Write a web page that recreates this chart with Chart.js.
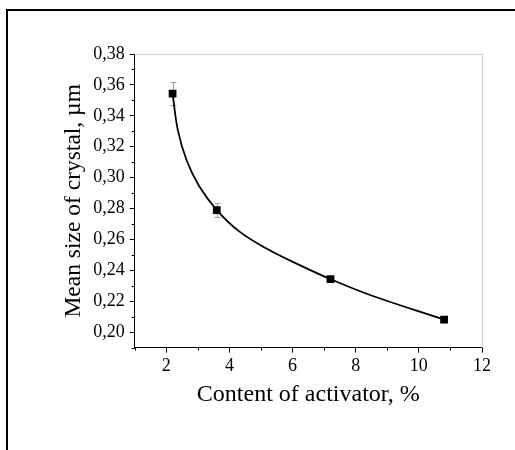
<!DOCTYPE html>
<html>
<head>
<meta charset="utf-8">
<script src="https://cdn.jsdelivr.net/npm/chart.js@4/dist/chart.umd.min.js"></script>
<style>
  html, body { margin: 0; padding: 0; background: #ffffff; overflow: hidden; }
  canvas { display: block; }
</style>
</head>
<body>
<canvas id="c" width="515" height="450"></canvas>
<script>
// Measured points
const activatorContent = [2.2, 3.6, 7.2, 10.8];
const meanCrystalSize  = [0.3544, 0.279, 0.2343, 0.2081];
const sizeError        = [0.0075, 0.0045, 0.002, 0.0015];

// Fitted curve
const fitX = [2.2, 2.37, 2.65, 3.04, 3.6, 4.31, 5.16, 6.21, 7.2, 8.5, 10.8];
const fitY = [0.3544, 0.3304, 0.3109, 0.2946, 0.279, 0.2652, 0.2543, 0.2435, 0.2343, 0.2237, 0.2081];

// Axis ticks
const xMajorTicks = [2, 4, 6, 8, 10, 12];
const xMinorTicks = [1, 3, 5, 7, 9, 11];
const yMajorTicks = [0.20, 0.22, 0.24, 0.26, 0.28, 0.30, 0.32, 0.34, 0.36, 0.38];
const yMinorTicks = [0.19, 0.21, 0.23, 0.25, 0.27, 0.29, 0.31, 0.33, 0.35, 0.37];

const xTitle = 'Content of activator, %';
const yTitle = 'Mean size of crystal, \u00b5m';

const SERIF = '"Liberation Serif", "Times New Roman", serif';

const framePlugin = {
  id: 'frame',
  beforeDraw(chart) {
    const ctx = chart.ctx;
    ctx.save();
    ctx.fillStyle = '#fff';
    ctx.fillRect(0, 0, chart.width, chart.height);
    ctx.strokeStyle = '#000';
    ctx.lineWidth = 2;
    ctx.beginPath();
    ctx.moveTo(7, chart.height);
    ctx.lineTo(7, 10);
    ctx.lineTo(chart.width, 10);
    ctx.stroke();
    ctx.restore();
  }
};

const extrasPlugin = {
  id: 'extras',
  beforeDatasetsDraw(chart) {
    const ctx = chart.ctx;
    const xs = chart.scales.x, ys = chart.scales.y;
    const a = chart.chartArea;
    ctx.save();
    // top and right frame of plot area
    ctx.strokeStyle = '#cfcfcf';
    ctx.lineWidth = 1;
    ctx.beginPath();
    ctx.moveTo(a.left, a.top + 0.5);
    ctx.lineTo(a.right + 0.5, a.top + 0.5);
    ctx.lineTo(a.right + 0.5, a.bottom);
    ctx.stroke();
    // minor ticks
    ctx.strokeStyle = '#000';
    ctx.lineWidth = 1;
    ctx.beginPath();
    xMinorTicks.forEach(v => {
      const px = Math.round(xs.getPixelForValue(v)) + 0.5;
      ctx.moveTo(px, a.bottom);
      ctx.lineTo(px, a.bottom + 3);
    });
    yMinorTicks.forEach(v => {
      const py = Math.round(ys.getPixelForValue(v)) + 0.5;
      ctx.moveTo(a.left, py);
      ctx.lineTo(a.left - 3, py);
    });
    ctx.stroke();
    // error bars
    ctx.strokeStyle = '#9a9a9a';
    ctx.lineWidth = 1;
    ctx.beginPath();
    activatorContent.forEach((x, i) => {
      const px = Math.round(xs.getPixelForValue(x)) + 0.5;
      const top = Math.round(ys.getPixelForValue(meanCrystalSize[i] + sizeError[i])) + 0.5;
      const bot = Math.round(ys.getPixelForValue(meanCrystalSize[i] - sizeError[i])) + 0.5;
      ctx.moveTo(px, top); ctx.lineTo(px, bot);
      ctx.moveTo(px - 3, top); ctx.lineTo(px + 3, top);
      ctx.moveTo(px - 3, bot); ctx.lineTo(px + 3, bot);
    });
    ctx.stroke();
    ctx.restore();
  }
};

const fmt = v => v.toFixed(2).replace('.', ',');

new Chart(document.getElementById('c'), {
  type: 'scatter',
  data: {
    datasets: [
      {
        label: 'fit',
        data: fitX.map((x, i) => ({ x, y: fitY[i] })),
        showLine: true,
        borderColor: '#000',
        borderWidth: 1.8,
        pointRadius: 0,
        tension: 0.4,
        fill: false,
        order: 2
      },
      {
        label: 'data',
        data: activatorContent.map((x, i) => ({ x, y: meanCrystalSize[i] })),
        showLine: false,
        pointStyle: 'rect',
        pointRadius: 5.5,
        backgroundColor: '#000',
        borderColor: '#000',
        borderWidth: 0,
        order: 1
      }
    ]
  },
  options: {
    responsive: false,
    animation: false,
    devicePixelRatio: 1,
    layout: { padding: { left: 59, right: 33, top: 54, bottom: 41 } },
    plugins: { legend: { display: false }, tooltip: { enabled: false } },
    scales: {
      x: {
        type: 'linear',
        min: 1, max: 12,
        afterBuildTicks: s => { s.ticks = xMajorTicks.map(v => ({ value: v })); },
        ticks: { color: '#000', font: { family: SERIF, size: 18 }, padding: 3, maxRotation: 0, autoSkip: false },
        grid: { display: true, drawOnChartArea: false, drawTicks: true, tickLength: 5, tickColor: '#000' },
        border: { display: true, color: '#000', width: 1 },
        title: { display: true, text: xTitle, color: '#000', font: { family: SERIF, size: 24 }, padding: { top: 0, bottom: 0 } }
      },
      y: {
        type: 'linear',
        min: 0.19, max: 0.38,
        afterBuildTicks: s => { s.ticks = yMajorTicks.map(v => ({ value: v })); },
        ticks: { color: '#000', font: { family: SERIF, size: 18 }, padding: 5, callback: v => fmt(v), autoSkip: false },
        grid: { display: true, drawOnChartArea: false, drawTicks: true, tickLength: 5, tickColor: '#000' },
        border: { display: true, color: '#000', width: 1 },
        title: { display: true, text: yTitle, color: '#000', font: { family: SERIF, size: 23.5 }, padding: { top: 1, bottom: 0 } }
      }
    }
  },
  plugins: [framePlugin, extrasPlugin]
});
</script>
</body>
</html>
